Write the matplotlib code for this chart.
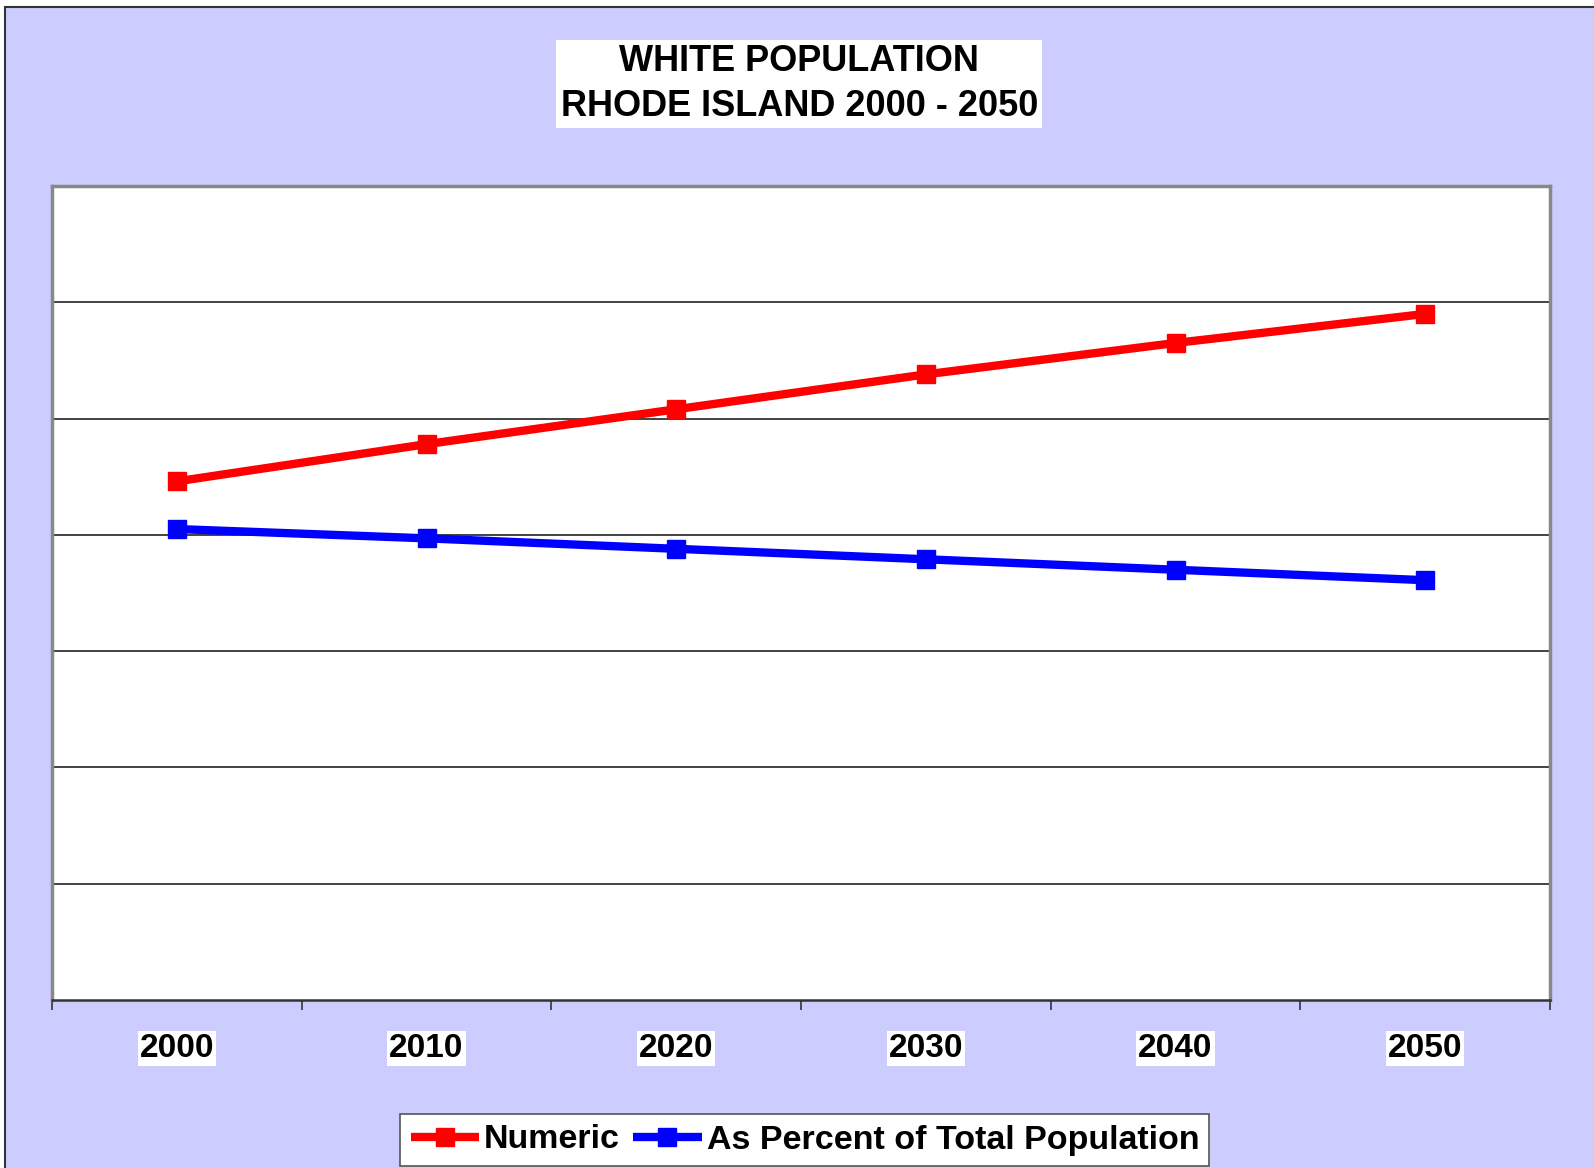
import numpy as np
import matplotlib.pyplot as plt
from matplotlib.patches import Rectangle

plt.rcParams['font.family'] = ['Liberation Sans', 'DejaVu Sans']
plt.rcParams['font.weight'] = 'bold'

years = ['2000', '2010', '2020', '2030', '2040', '2050']
numeric = [892000, 956000, 1016000, 1076000, 1130000, 1180000]
percent = [81.0, 79.4, 77.6, 75.8, 74.0, 72.2]   # plotted scaled x10000

bg = '#CCCCFF'

fig = plt.figure(figsize=(15.94, 11.68), dpi=100)
fig.patch.set_facecolor('white')
# chart area background with its own border (cut off at right and bottom)
fig.patches.append(Rectangle((5/1594, -0.05), 1.1, 1 - 7/1168 + 0.05,
                             transform=fig.transFigure, facecolor=bg,
                             edgecolor='#333333', linewidth=1.5, zorder=-10))

ax = fig.add_axes([52/1594, 1 - 1000/1168, 1498/1594, 814/1168])
ax.set_facecolor('white')

x = np.arange(len(years))
ax.plot(x, numeric, color='#FF0000', lw=6, marker='s', ms=13, label='Numeric',
        solid_capstyle='butt', zorder=3)
ax.plot(x, np.array(percent) * 10000, color='#0000FF', lw=6, marker='s', ms=13,
        label='As Percent of Total Population', solid_capstyle='butt', zorder=3)

ax.set_xlim(-0.5, 5.5)
ax.set_ylim(0, 1400000)
ax.set_yticks(np.arange(200000, 1400000, 200000))
ax.yaxis.grid(True, color='#222222', lw=1.2)
ax.tick_params(axis='y', length=0, labelleft=False)

ax.set_xticks(x)
ax.set_xticklabels(years, fontsize=24, fontweight='bold',
                   bbox=dict(facecolor='white', edgecolor='none', pad=1.5))
ax.set_xticks(np.arange(-0.5, 6, 1), minor=True)
ax.tick_params(axis='x', which='major', length=0, pad=24)
ax.tick_params(axis='x', which='minor', length=7, width=1.2, color='#333333',
               direction='out')

for s in ['left', 'top', 'right']:
    ax.spines[s].set_color('#888888')
    ax.spines[s].set_linewidth(2.5)
ax.spines['bottom'].set_color('#333333')
ax.spines['bottom'].set_linewidth(1.8)

fig.text(0.5015, 1 - 84/1168, 'WHITE POPULATION\nRHODE ISLAND 2000 - 2050',
         ha='center', va='center', fontsize=26, fontweight='bold',
         linespacing=1.35,
         bbox=dict(facecolor='white', edgecolor='none', pad=3))

leg = fig.legend(loc='center', bbox_to_anchor=(0.505, 1 - 1140/1168), ncol=2,
                 fontsize=24.5, frameon=True, fancybox=False, edgecolor='#555555',
                 handlelength=2.0, handletextpad=0.15, columnspacing=0.4,
                 borderpad=0.3, borderaxespad=0)
leg.get_frame().set_linewidth(1.2)
leg.get_frame().set_facecolor('white')
leg.get_frame().set_alpha(1)
for t in leg.get_texts():
    t.set_fontweight('bold')

fig.savefig('out.png', dpi=100, facecolor=fig.get_facecolor())
